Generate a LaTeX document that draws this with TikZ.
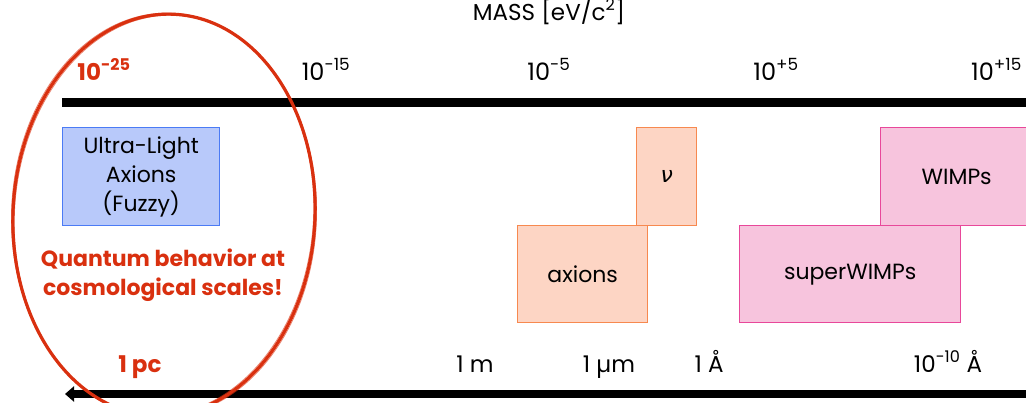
\documentclass[tikz,border=0pt]{standalone}
\usepackage{fontspec}
\setmainfont{Poppins}
\newfontfamily\grkfont{DejaVu Sans}
\usetikzlibrary{arrows.meta}
\definecolor{axred}{HTML}{D9300F}
\definecolor{blfill}{HTML}{B8C9FA}
\definecolor{bldraw}{HTML}{4B7BF5}
\definecolor{orfill}{HTML}{FDD5C4}
\definecolor{ordraw}{HTML}{F7894F}
\definecolor{pkfill}{HTML}{F7C4DD}
\definecolor{pkdraw}{HTML}{E8489A}
\begin{document}
\begin{tikzpicture}[x=1pt,y=-1pt,
  box/.style={draw, line width=1.4pt, anchor=north west, inner sep=0pt, align=center,
    font=\fontsize{22}{29}\selectfont},
  bluebox/.style={box, fill=blfill, draw=bldraw},
  orbox/.style={box, fill=orfill, draw=ordraw},
  pkbox/.style={box, fill=pkfill, draw=pkdraw},
  lbl/.style={inner sep=0pt, anchor=base, font=\fontsize{24}{28}\selectfont},
  redlbl/.style={lbl, text=axred, font=\fontsize{23}{28}\selectfont\bfseries},
  bar/.style={line width=8.5pt, black},
]
\useasboundingbox (0,0) rectangle (1026,402);
\clip (0,0) rectangle (1026,402);

% title
\node[lbl, font=\fontsize{23}{26}\selectfont] (mass) at (549,20) {MASS [eV/c\textsuperscript{2}]};

% mass ticks
\node[redlbl] (m25) at (104,80) {10\textsuperscript{-25}};
\node[lbl] (m15) at (326,80) {10\textsuperscript{-15}};
\node[lbl] (m5) at (549,80) {10\textsuperscript{-5}};
\node[lbl] (p5) at (776,80) {10\textsuperscript{+5}};
\node[lbl, anchor=base west] (p15) at (971,80) {10\textsuperscript{+15}};

% top bar
\coordinate (tbl) at (62,102.5);
\coordinate (tbr) at (1030,102.5);
\draw[bar] (tbl) -- (tbr);

% boxes
\node[bluebox, minimum width=157pt, minimum height=98pt] (ula) at (62,127)
  {Ultra-Light\\Axions\\(Fuzzy)};
\node[orbox, minimum width=60pt, minimum height=98pt] (nu) at (636,127) {{\grkfont\itshape ν}};
\node[orbox, minimum width=130pt, minimum height=97pt] (ax) at (517,225) {axions};
\node[pkbox, minimum width=152pt, minimum height=98pt] (wimps) at (880,127) {WIMPs};
\node[pkbox, minimum width=221pt, minimum height=97pt] (swimps) at (739,225) {superWIMPs};

% red statement
\node[inner sep=0pt, align=center, text=axred, font=\fontsize{22}{29}\selectfont\bfseries] (qb) at (163,275)
  {Quantum behavior at\\cosmological scales!};

% length ticks
\node[redlbl] (pc) at (140,372) {1 pc};
\node[lbl, font=\fontsize{23}{28}\selectfont] (lm) at (475,372) {1 m};
\node[lbl, font=\fontsize{23}{28}\selectfont] (lum) at (609,372) {1 µm};
\node[lbl, font=\fontsize{23}{28}\selectfont] (lA) at (709,372) {1 Å};
\node[lbl, font=\fontsize{23}{28}\selectfont] (lA10) at (948,372) {10\textsuperscript{-10} Å};

% bottom arrow
\coordinate (bbr) at (1030,394);
\coordinate (bbl) at (65,394);
\draw[bar, -{Triangle[length=9pt, width=15pt]}] (bbr) -- (bbl);

% hand-drawn ellipse
\coordinate (ec) at (164,215);
\draw[axred, line width=3.2pt, rotate around={-3:(ec)}] (ec) ellipse (151 and 201);
\draw[axred, line width=0.8pt, opacity=0.6, rotate around={-2:(ec)}] (ec) ellipse (152.5 and 202);
\draw[axred, line width=0.8pt, opacity=0.6, rotate around={-4:(ec)}] (ec) ellipse (149.5 and 200);
\end{tikzpicture}
\end{document}
